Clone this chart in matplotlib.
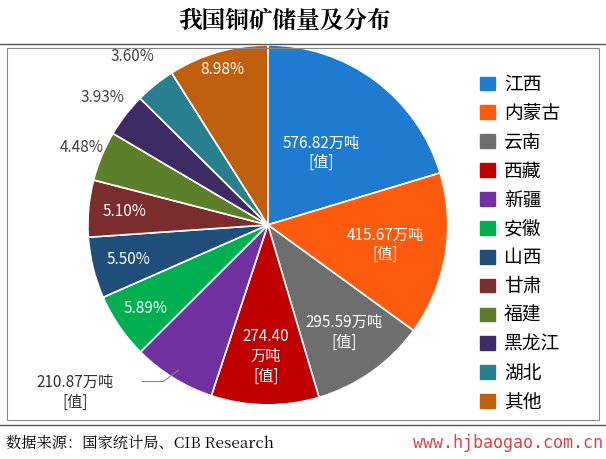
import matplotlib
matplotlib.use("Agg")
import matplotlib.pyplot as plt
import numpy as np
from matplotlib.patches import Rectangle

plt.rcParams['font.family'] = ['Noto Sans CJK SC', 'DejaVu Sans']

regions = ['江西', '内蒙古', '云南', '西藏', '新疆', '安徽', '山西', '甘肃', '福建', '黑龙江', '湖北', '其他']
reserves = [576.82, 415.67, 295.59, 274.40, 210.87]
shares_pct = [5.89, 5.50, 5.10, 4.48, 3.93, 3.60, 8.98]
labels = ['576.82万吨\n[值]', '415.67万吨\n[值]', '295.59万吨\n[值]', '274.40\n万吨\n[值]', '210.87万吨\n[值]',
          '5.89%', '5.50%', '5.10%', '4.48%', '3.93%', '3.60%', '8.98%']
colors = ['#1F7BD0', '#FF5B0F', '#6E6E6E', '#C00000', '#7030A0', '#00B050',
          '#1F4E79', '#7B2C2C', '#5E7F2A', '#3F2B63', '#2A7F8F', '#C0600E']

first_total_pct = 100 - sum(shares_pct)
total = sum(reserves) / (first_total_pct / 100)
values = reserves + [p / 100 * total for p in shares_pct]

fig = plt.figure(figsize=(6.06, 4.59), dpi=100)
fig.text(0.47, 0.955, '我国铜矿储量及分布', ha='center', va='center', fontsize=17,
         fontweight='bold', family=['Noto Serif CJK SC', 'Noto Sans CJK SC', 'DejaVu Sans'])
fig.add_artist(plt.Line2D([0.0, 1.0], [0.905, 0.905], color='#555555', lw=1))
fig.add_artist(Rectangle((0.012, 0.085), 0.976, 0.81, fill=False, ec='#888888', lw=0.8))
fig.add_artist(plt.Line2D([0.0, 1.0], [0.075, 0.075], color='#555555', lw=1))
fig.text(0.01, 0.035, '数据来源：国家统计局、CIB Research', fontsize=11, va='center',
         family=['Noto Serif CJK SC', 'Noto Sans CJK SC', 'DejaVu Serif'])
fig.text(0.995, 0.035, 'www.hjbaogao.com.cn', fontsize=12, va='center', ha='right', color='#E02020',
         alpha=0.85, family='DejaVu Sans Mono')

ax = fig.add_axes([0.145, 0.118, 0.594, 0.784])
wedges, _ = ax.pie(values, colors=colors, startangle=90, counterclock=False,
                   wedgeprops=dict(edgecolor='white', linewidth=1.2))
ax.set_xlim(-1, 1)
ax.set_ylim(-1, 1)

radii = [0.5, 0.66, 0.73, 0.73, None, 0.82, 0.8, 0.8, 1.12, 1.16, 1.2, 0.9]
cum = 0
for i, (v, lab) in enumerate(zip(values, labels)):
    mid = 90 - 360 * (cum + v / 2) / total
    cum += v
    a = np.deg2rad(mid)
    if i == 4:
        x0, y0 = 0.95 * np.cos(a), 0.95 * np.sin(a)
        ax.plot([x0, -0.58], [y0, -0.87], color='#888888', lw=0.8)
        ax.plot([-0.58, -0.7], [-0.87, -0.87], color='#888888', lw=0.8)
        ax.text(-1.07, -0.93, lab, ha='center', va='center', fontsize=11, color='#333333')
        continue
    r = radii[i]
    col = 'white' if r < 1 else '#404040'
    ax.text(r * np.cos(a), r * np.sin(a), lab, ha='center', va='center', color=col, fontsize=11)

handles = [Rectangle((0, 0), 1, 1, color=c) for c in colors]
fig.legend(handles, regions, loc='center left', bbox_to_anchor=(0.765, 0.47), frameon=False,
           fontsize=13.5, handlelength=0.75, handleheight=0.75, labelspacing=0.42, handletextpad=0.5)

fig.savefig('out.png', dpi=100)
